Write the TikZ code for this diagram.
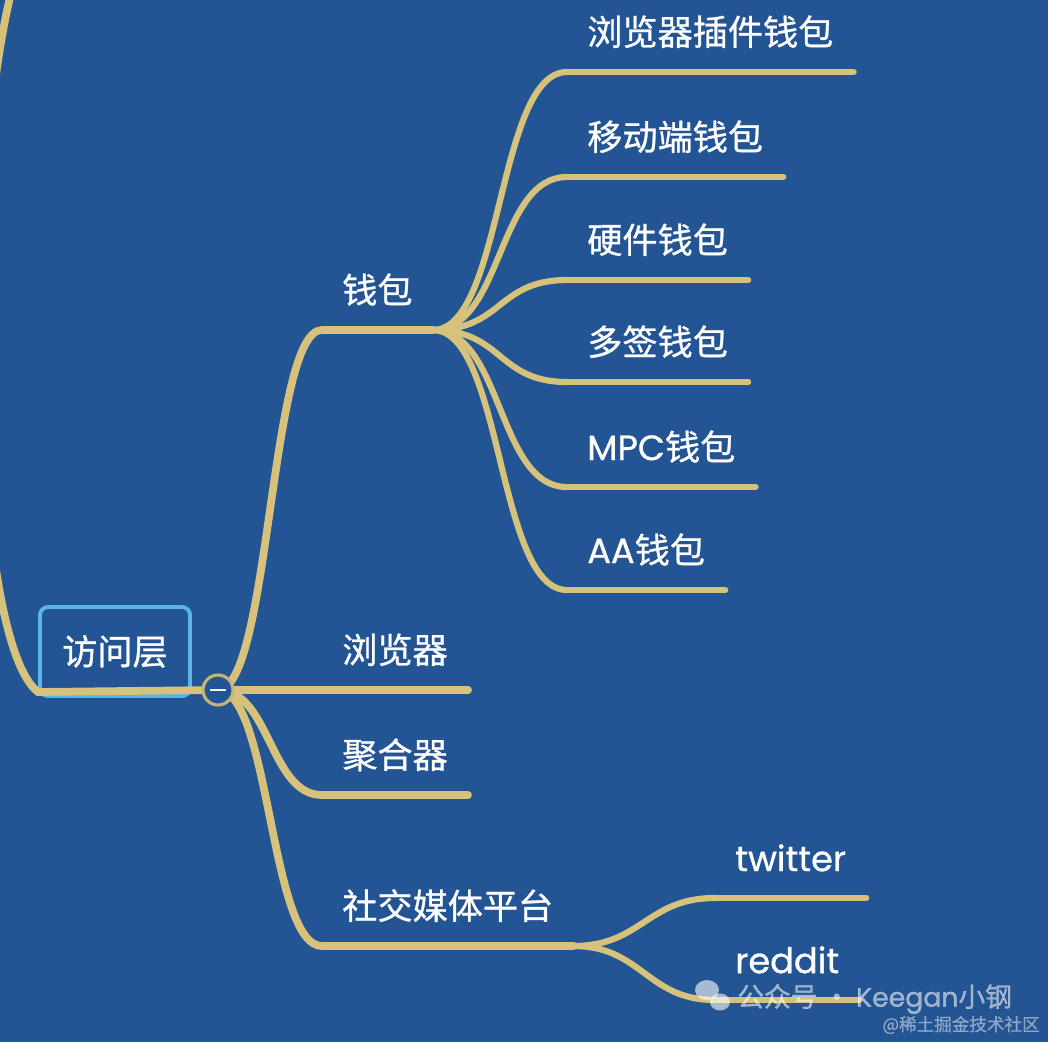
\documentclass[tikz,border=0pt]{standalone}
\usepackage{fontspec}
\setmainfont{Poppins}[FakeBold=0.8]
\newfontfamily\cjk{Noto Sans CJK SC}[FakeBold=0.8]
\definecolor{mapbg}{RGB}{35,84,147}
\definecolor{branchtan}{RGB}{214,194,122}
\definecolor{rootblue}{RGB}{90,180,236}
\definecolor{markgray}{RGB}{165,182,208}
\tikzset{
  branch/.style={out=0, in=180, distance=#1},
  mainline/.style={draw=branchtan, line width=5.5pt, line cap=round},
  subline/.style={draw=branchtan, line width=4.4pt, line cap=round},
  topic/.style={font=\cjk\fontsize{25}{25}\selectfont, text=white, anchor=south west,
    inner xsep=0.5cm, inner ysep=0.56cm, text height=22pt, text depth=3pt},
}
\begin{document}
\begin{tikzpicture}[x=0.025cm, y=-0.025cm]
\fill[mapbg] (0,0) rectangle (1048,1042);
\clip (0,0) rectangle (1048,1042);
% root and first level
\node[draw=rootblue, line width=2.8pt, rounded corners=0.2cm, minimum width=3.75cm, minimum height=2.225cm,
  inner sep=0, text=white, font=\cjk\fontsize{25}{25}\selectfont] (root) at (115,651.5) {访问层};
\coordinate (parent) at (20,-40);
\coordinate (hub) at (218,690);
\node[topic] (wallet) at (322,330) {钱包};
\node[topic] (browser) at (322,690) {浏览器};
\node[topic] (aggregator) at (322,795) {聚合器};
\node[topic] (social) at (322,946) {社交媒体平台};
% wallets
\node[topic] (w-plugin) at (567,72) {浏览器插件钱包};
\node[topic] (w-mobile) at (567,177) {移动端钱包};
\node[topic] (w-hardware) at (567,280) {硬件钱包};
\node[topic] (w-multisig) at (567,382) {多签钱包};
\node[topic] (w-mpc) at (567,487) {{\rmfamily MPC}钱包};
\node[topic] (w-aa) at (567,590) {{\rmfamily AA}钱包};
% social media
\node[topic] (twitter) at (715,898) {\rmfamily twitter};
\node[topic] (reddit) at (715,1000) {\rmfamily reddit};

\draw[mainline] (parent) .. controls (-40,150) and (-30,640) .. ([yshift=0.15cm]root.south west) -- (hub);
\foreach \n in {wallet,browser,aggregator,social} {
  \draw[mainline] (hub) to[branch=1.3cm] (\n.south west);
  \draw[mainline] (\n.south west) -- (\n.south east);
}
\foreach \n in {w-plugin,w-mobile,w-hardware,w-multisig,w-mpc,w-aa} {
  \draw[subline] (wallet.south east) to[branch=1.75cm] (\n.south west);
  \draw[subline] (\n.south west) -- (\n.south east);
}
\foreach \n in {twitter,reddit} {
  \draw[subline] (social.south east) to[branch=1.7cm] (\n.south west);
  \draw[subline] (\n.south west) -- (\n.south east);
}
\node[circle, draw=branchtan!80!gray, line width=2.2pt, fill=mapbg, minimum size=0.75cm, inner sep=0] (fold) at (hub) {};
\draw[white!85!branchtan, line width=1.6pt] ([xshift=-0.2cm]fold.center) -- ([xshift=0.2cm]fold.center);

% watermark
\fill[white, opacity=0.6] (707,990) ellipse [x radius=12, y radius=10];
\fill[white, opacity=0.6] (720,1002) ellipse [x radius=10, y radius=8.5];
\node[anchor=west, inner sep=0, text=white, opacity=0.55, font=\cjk\fontsize{19}{19}\selectfont] (mark) at (737,999)
  {公众号 · {\rmfamily Keegan}小钢};
\node[anchor=east, inner sep=0, text=markgray, opacity=0.8, font=\cjk\fontsize{12.5}{12.5}\selectfont] (site) at (1040,1025)
  {@稀土掘金技术社区};
\end{tikzpicture}
\end{document}
